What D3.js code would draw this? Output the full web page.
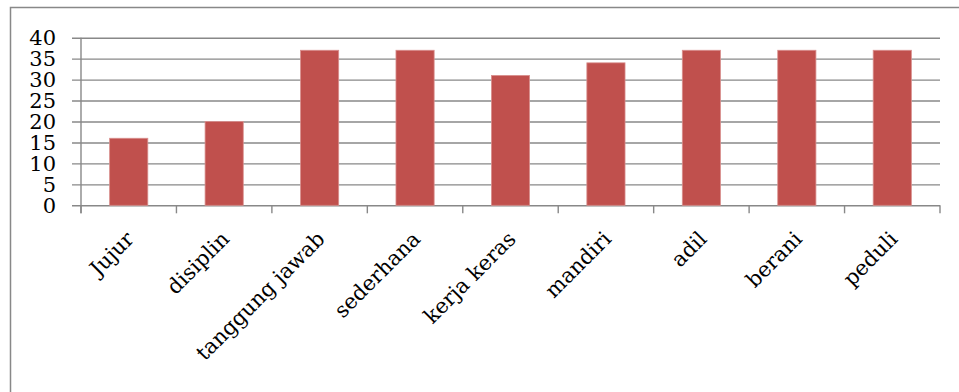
<!DOCTYPE html>
<html>
<head>
<meta charset="utf-8">
<script src="https://cdn.jsdelivr.net/npm/d3@7"></script>
<style>
  body { margin: 0; background: #fff; }
  svg { display: block; }
  text { font-family: "DejaVu Serif", serif; fill: #000; }
</style>
</head>
<body>
<div id="chart"></div>
<script>
// data
var categories = ["Jujur", "disiplin", "tanggung jawab", "sederhana", "kerja keras", "mandiri", "adil", "berani", "peduli"];
var values = [16, 20, 37, 37, 31, 34, 37, 37, 37];
var yTicks = [0, 5, 10, 15, 20, 25, 30, 35, 40];

var width = 959, height = 392;
var plotLeft = 81, plotRight = 940, plotTop = 37.7, plotBottom = 205.3;
var gridColor = "#888888";

var svg = d3.select("#chart").append("svg")
    .attr("width", width)
    .attr("height", height);

// outer frame (cropped at right and bottom)
svg.append("rect")
    .attr("x", 10.5).attr("y", 7.5)
    .attr("width", 1000).attr("height", 500)
    .attr("fill", "none")
    .attr("stroke", gridColor)
    .attr("stroke-width", 1.5);

var x = d3.scaleBand()
    .domain(categories)
    .range([plotLeft, plotRight])
    .paddingInner(0.6)
    .paddingOuter(0.3);

var y = d3.scaleLinear()
    .domain([0, 40])
    .range([plotBottom, plotTop]);

// y axis with gridlines
var yAxis = svg.append("g")
    .attr("transform", "translate(72,0)")
    .call(d3.axisLeft(y)
        .tickValues(yTicks)
        .tickSize(-(plotRight - 72))
        .tickPadding(16));
yAxis.select(".domain").remove();
yAxis.selectAll("line")
    .attr("stroke", gridColor)
    .attr("stroke-width", 1.4);
yAxis.selectAll("text")
    .style("font-size", "21px")
    .attr("fill", "#000");

// vertical axis line
svg.append("line")
    .attr("x1", plotLeft).attr("x2", plotLeft)
    .attr("y1", y(40)).attr("y2", y(0) + 8)
    .attr("stroke", gridColor)
    .attr("stroke-width", 1.4);

// category boundary ticks
var bounds = categories.map(function (c) { return x(c) - x.step() * x.paddingOuter(); });
bounds.push(plotRight);
svg.selectAll(".xtick")
    .data(bounds)
    .enter().append("line")
    .attr("class", "xtick")
    .attr("x1", function (d) { return d; })
    .attr("x2", function (d) { return d; })
    .attr("y1", y(0))
    .attr("y2", y(0) + 8)
    .attr("stroke", gridColor)
    .attr("stroke-width", 1.4);

// bars
svg.selectAll(".bar")
    .data(values)
    .enter().append("rect")
    .attr("class", "bar")
    .attr("x", function (d, i) { return x(categories[i]); })
    .attr("y", function (d) { return y(d); })
    .attr("width", x.bandwidth())
    .attr("height", function (d) { return y(0) - y(d); })
    .attr("fill", "#C0504D")
    .attr("stroke", "#d9908e")
    .attr("stroke-width", 0.8);

// rotated category labels
svg.selectAll(".xlabel")
    .data(categories)
    .enter().append("text")
    .attr("class", "xlabel")
    .attr("text-anchor", "end")
    .style("font-size", "21px")
    .attr("transform", function (d) {
        var cx = x(d) + x.bandwidth() / 2 + 6.5;
        return "translate(" + cx + "," + (y(0) + 35) + ") rotate(-45)";
    })
    .text(function (d) { return d; });
</script>
</body>
</html>
